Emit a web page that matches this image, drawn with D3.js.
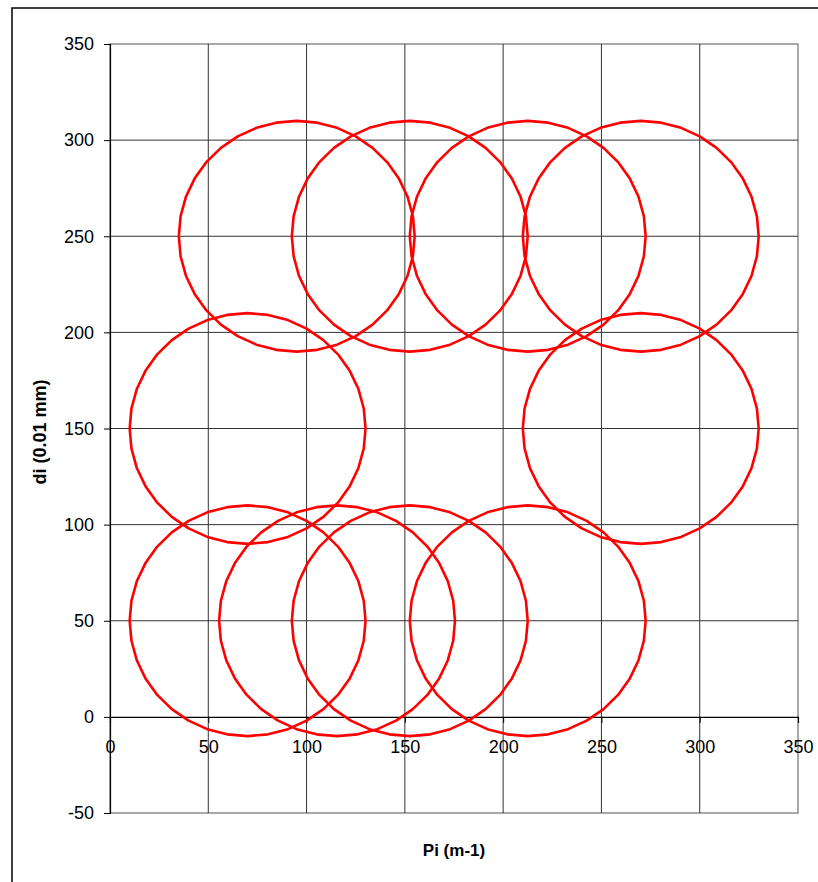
<!DOCTYPE html>
<html>
<head>
<meta charset="utf-8">
<script src="https://cdn.jsdelivr.net/npm/d3@7"></script>
<style>
  body { margin: 0; background: #fff; }
  svg { display: block; }
  text { font-family: Arial, "Liberation Sans", sans-serif; }
</style>
</head>
<body>
<svg id="chart" width="818" height="882"></svg>
<script>
// Circle centres (Pi, di) and radius
const centerX = [95, 152.5, 212.5, 270, 70, 270, 70, 115.5, 152.5, 212.5];
const centerY = [250, 250, 250, 250, 150, 150, 50, 50, 50, 50];
const radius = 60;
const segments = 36;
const xTicks = [0, 50, 100, 150, 200, 250, 300, 350];
const yTicks = [-50, 0, 50, 100, 150, 200, 250, 300, 350];

const svg = d3.select("#chart");
const L = 110, R = 798, T = 44, B = 813;
const x = d3.scaleLinear().domain([0, 350]).range([L, R]);
const y = d3.scaleLinear().domain([-50, 350]).range([B, T]);
const fmt = d => String(d);
const FONT = "Arial, 'Liberation Sans', sans-serif";

// outer frame
svg.append("rect").attr("x", 12).attr("y", 8).attr("width", 900).attr("height", 900)
  .attr("fill", "none").attr("stroke", "#000").attr("stroke-width", 1.5);

// plot border
svg.append("rect").attr("x", L).attr("y", T).attr("width", R - L).attr("height", B - T)
  .attr("fill", "none").attr("stroke", "#8c8c8c").attr("stroke-width", 1.5);

// grid lines
svg.append("g").selectAll("line").data(xTicks.filter(d => d > 0 && d < 350)).join("line")
  .attr("x1", d => x(d)).attr("x2", d => x(d)).attr("y1", T).attr("y2", B)
  .attr("stroke", "#333").attr("stroke-width", 1);
svg.append("g").selectAll("line").data(yTicks.filter(d => d > -50 && d < 350 && d !== 0)).join("line")
  .attr("x1", L).attr("x2", R).attr("y1", d => y(d)).attr("y2", d => y(d))
  .attr("stroke", "#333").attr("stroke-width", 1);

// y axis at x=0
const yAxis = d3.axisLeft(y).tickValues(yTicks).tickSize(6).tickPadding(10).tickFormat(fmt);
const gy = svg.append("g").attr("transform", `translate(${x(0)},0)`).call(yAxis);
gy.attr("font-size", 18).attr("font-family", FONT);
gy.select(".domain").attr("stroke", "#000").attr("stroke-width", 1.2);
gy.selectAll(".tick line").attr("stroke", "#000");
gy.selectAll("text").attr("fill", "#000");

// x axis at y=0
const xAxis = d3.axisBottom(x).tickValues(xTicks).tickSize(6).tickPadding(17).tickFormat(fmt);
const gx = svg.append("g").attr("transform", `translate(0,${y(0)})`).call(xAxis);
gx.attr("font-size", 18).attr("font-family", FONT);
gx.select(".domain").attr("stroke", "#000").attr("stroke-width", 1.2);
gx.selectAll(".tick line").attr("stroke", "#000");
gx.selectAll("text").attr("fill", "#000");

// circles as polylines
const circles = centerX.map((cx, i) => {
  const pts = [];
  for (let k = 0; k <= segments; k++) {
    const a = 2 * Math.PI * k / segments;
    pts.push([cx + radius * Math.cos(a), centerY[i] + radius * Math.sin(a)]);
  }
  return pts;
});
const line = d3.line().x(d => x(d[0])).y(d => y(d[1]));
svg.append("g").selectAll("path").data(circles).join("path")
  .attr("d", line).attr("fill", "none").attr("stroke", "#ff0000")
  .attr("stroke-width", 2.6).attr("stroke-linejoin", "round");

// axis titles
svg.append("text").attr("x", 454).attr("y", 856).attr("text-anchor", "middle")
  .attr("font-size", 17).attr("font-weight", "bold").text("Pi (m-1)");
svg.append("text").attr("transform", "translate(46,432) rotate(-90)").attr("text-anchor", "middle")
  .attr("font-size", 18).attr("font-weight", "bold").text("di (0.01 mm)");
</script>
</body>
</html>
